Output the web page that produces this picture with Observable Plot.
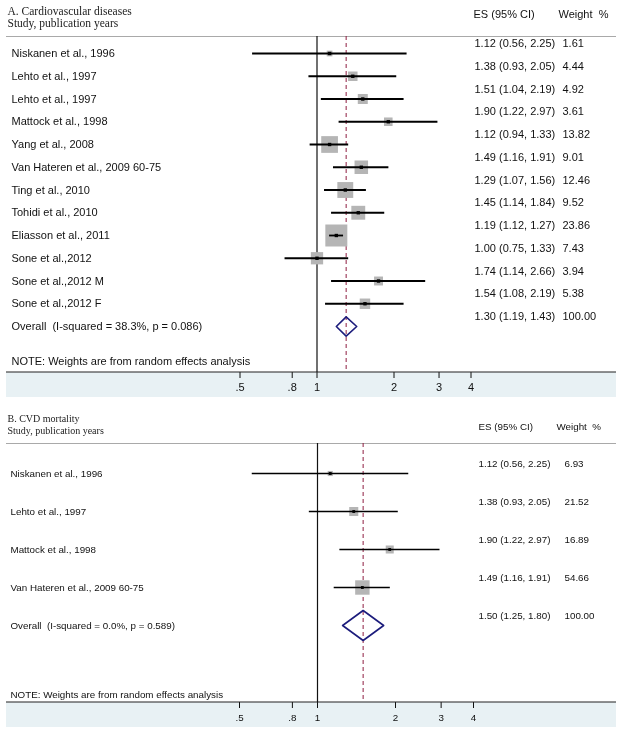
<!DOCTYPE html>
<html>
<head>
<meta charset="utf-8">
<script src="https://cdn.jsdelivr.net/npm/d3@7"></script>
<script src="https://cdn.jsdelivr.net/npm/@observablehq/plot@0.6"></script>
<style>
  html, body { margin: 0; padding: 0; background: #fff; }
  #chart svg { display: block; }
</style>
</head>
<body>
<div id="chart"></div>
<script>
// ---------- Data ----------
const tickValues = [0.5, 0.8, 1, 2, 3, 4];
const tickLabels = [".5", ".8", "1", "2", "3", "4"];

const titleA = ["A. Cardiovascular diseases", "Study, publication years"];
const studiesA = ["Niskanen et al., 1996", "Lehto et al., 1997", "Lehto et al., 1997", "Mattock et al., 1998",
  "Yang et al., 2008", "Van Hateren et al., 2009 60-75", "Ting et al., 2010", "Tohidi et al., 2010",
  "Eliasson et al., 2011", "Sone et al.,2012", "Sone et al.,2012 M", "Sone et al.,2012 F"];
const esA = [1.12, 1.38, 1.51, 1.90, 1.12, 1.49, 1.29, 1.45, 1.19, 1.00, 1.74, 1.54];
const loA = [0.56, 0.93, 1.04, 1.22, 0.94, 1.16, 1.07, 1.14, 1.12, 0.75, 1.14, 1.08];
const hiA = [2.25, 2.05, 2.19, 2.97, 1.33, 1.91, 1.56, 1.84, 1.27, 1.33, 2.66, 2.19];
const wA  = [1.61, 4.44, 4.92, 3.61, 13.82, 9.01, 12.46, 9.52, 23.86, 7.43, 3.94, 5.38];
const overallLabelA = "Overall  (I-squared = 38.3%, p = 0.086)";
const overallA = [1.30, 1.19, 1.43, 100.00];

const titleB = ["B. CVD mortality", "Study, publication years"];
const studiesB = ["Niskanen et al., 1996", "Lehto et al., 1997", "Mattock et al., 1998", "Van Hateren et al., 2009 60-75"];
const esB = [1.12, 1.38, 1.90, 1.49];
const loB = [0.56, 0.93, 1.22, 1.16];
const hiB = [2.25, 2.05, 2.97, 1.91];
const wB  = [6.93, 21.52, 16.89, 54.66];
const overallLabelB = "Overall  (I-squared = 0.0%, p = 0.589)";
const overallB = [1.50, 1.25, 1.80, 100.00];

const noteText = "NOTE: Weights are from random effects analysis";
const headES = "ES (95% CI)";
const headW = "Weight\u00a0\u00a0%";

// ---------- Drawing ----------
const SANS = "'Liberation Sans', Arial, sans-serif";
const SERIF = "'Liberation Serif', 'Times New Roman', serif";

function panel(d, L) {
  const rows = d.studies.map((s, i) => ({i, label: s, es: d.es[i], lo: d.lo[i], hi: d.hi[i], w: d.w[i]}));
  const n = rows.length;
  const ov = {i: n, label: d.overallLabel, es: d.overall[0], lo: d.overall[1], hi: d.overall[2], w: d.overall[3]};
  const all = [...rows, ov];
  const fmt = v => v.toFixed(2);
  const diamond = [
    {x: ov.lo, y: n}, {x: ov.es, y: n - L.dh}, {x: ov.hi, y: n}, {x: ov.es, y: n + L.dh}, {x: ov.lo, y: n}
  ];
  const deco = (index, scales, values, dims) => {
    const g = d3.create("svg:g");
    const yb = dims.height - dims.marginBottom;
    g.append("rect").attr("x", 6).attr("y", yb).attr("width", 610).attr("height", L.band)
      .attr("fill", "#e8f1f4").style("mix-blend-mode", "multiply");
    g.append("line").attr("x1", 6).attr("x2", 616).attr("y1", dims.marginTop + 0.5).attr("y2", dims.marginTop + 0.5)
      .attr("stroke", "#a9a9a9").attr("stroke-width", 1.2);
    g.append("line").attr("x1", 6).attr("x2", 616).attr("y1", yb).attr("y2", yb)
      .attr("stroke", "#222").attr("stroke-width", 1.2);
    return g.node();
  };
  return Plot.plot({
    width: 624,
    height: L.height,
    marginTop: L.top,
    marginBottom: L.height - L.axisY,
    marginLeft: 6,
    marginRight: 8,
    style: {fontFamily: SANS, fontSize: L.fs + "px", background: "white", overflow: "visible", color: "#111"},
    x: {type: "log", domain: [0.5, 4], range: L.xRange, ticks: tickValues,
        tickFormat: v => tickLabels[tickValues.indexOf(v)], tickSize: 6, tickPadding: L.tickPad, label: null},
    y: {domain: [0, n], range: L.yRange, axis: null},
    r: {type: "identity"},
    marks: [
      deco,
      Plot.ruleX([1], {stroke: "#111", strokeWidth: 1.2}),
      Plot.ruleX([ov.es], {stroke: "#8e1d40", strokeWidth: 1, strokeDasharray: "4,3"}),
      Plot.dot(rows, {x: "es", y: "i", symbol: "square", r: r => L.sq * Math.sqrt(r.w), fill: "#b5b5b5", stroke: null}),
      Plot.ruleY(rows, {y: "i", x1: "lo", x2: "hi", stroke: "#000", strokeWidth: L.ciW}),
      Plot.dot(rows, {x: "es", y: "i", symbol: "square", r: L.dot, fill: "#000", stroke: null}),
      Plot.line(diamond, {x: "x", y: "y", stroke: "#1c1c7c", strokeWidth: 1.6, curve: "linear"}),
      // left labels
      Plot.text(all, {y: "i", text: "label", frameAnchor: "left", dx: L.labelDx, textAnchor: "start", fill: "#111"}),
      // ES and weight columns
      Plot.text(all, {y: "i", text: r => `${fmt(r.es)} (${fmt(r.lo)}, ${fmt(r.hi)})`, frameAnchor: "left",
        dx: L.esDx, dy: -10, textAnchor: "start", fill: "#111"}),
      Plot.text(all, {y: "i", text: r => fmt(r.w), frameAnchor: "left", dx: L.wDx, dy: -10, textAnchor: "start", fill: "#111"}),
      // titles
      Plot.text([d.title[0]], {frameAnchor: "top-left", textAnchor: "start", lineAnchor: "middle",
        dx: 1, dy: L.t1 - L.top, fontFamily: SERIF, fontSize: L.tfs, fill: "#222"}),
      Plot.text([d.title[1]], {frameAnchor: "top-left", textAnchor: "start", lineAnchor: "middle",
        dx: 1, dy: L.t2 - L.top, fontFamily: SERIF, fontSize: L.tfs, fill: "#222"}),
      // column headers
      Plot.text([headES], {frameAnchor: "top-left", textAnchor: "start", lineAnchor: "middle",
        dx: L.hEsDx, dy: L.hY - L.top, fill: "#111"}),
      Plot.text([headW], {frameAnchor: "top-left", textAnchor: "start", lineAnchor: "middle",
        dx: L.hWDx, dy: L.hY - L.top, fill: "#111"}),
      // note
      Plot.text([noteText], {frameAnchor: "bottom-left", textAnchor: "start", lineAnchor: "middle",
        dx: L.labelDx, dy: -L.noteUp, fill: "#111"})
    ]
  });
}

const chart = document.getElementById("chart");
chart.append(panel(
  {title: titleA, studies: studiesA, es: esA, lo: loA, hi: hiA, w: wA, overallLabel: overallLabelA, overall: overallA},
  {height: 400, top: 36, axisY: 372, band: 25, xRange: [239.5, 470.5], yRange: [53, 326],
   fs: 11, tfs: 11.5, t1: 11, t2: 23, hY: 14, hEsDx: 467, hWDx: 552, labelDx: 5, esDx: 468, wDx: 556,
   dh: 0.42, sq: 2.54, dot: 1.9, ciW: 1.8, noteUp: 11, tickPad: 5})
);
chart.append(panel(
  {title: titleB, studies: studiesB, es: esB, lo: loB, hi: hiB, w: wB, overallLabel: overallLabelB, overall: overallB},
  {height: 333, top: 43, axisY: 302, band: 25, xRange: [239, 473], yRange: [73, 225],
   fs: 9.8, tfs: 10, t1: 18, t2: 30, hY: 26, hEsDx: 472, hWDx: 550, labelDx: 4, esDx: 472, wDx: 558,
   dh: 0.395, sq: 1.1, dot: 1.6, ciW: 1.6, noteUp: 8, tickPad: 6})
);
</script>
</body>
</html>
